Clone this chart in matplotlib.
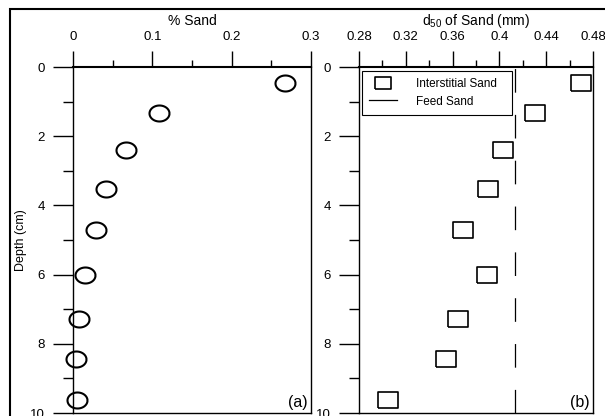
import numpy as np
import matplotlib
matplotlib.use("Agg")
import matplotlib.pyplot as plt
from matplotlib.lines import Line2D
from matplotlib.patches import Rectangle
from matplotlib.ticker import MultipleLocator, FuncFormatter

plt.rcParams['font.family'] = ['Liberation Sans', 'DejaVu Sans']
plt.rcParams['mathtext.fontset'] = 'custom'
plt.rcParams['mathtext.rm'] = 'Liberation Sans'

# profondidade das amostras (cm)
depth = [0.45, 1.33, 2.4, 3.54, 4.7, 6.0, 7.28, 8.43, 9.62]
# percentagem de areia
pct_sand = [0.267, 0.108, 0.067, 0.042, 0.029, 0.015, 0.0076, 0.004, 0.005]
# d50 da areia intersticial (mm)
d50_sand = [0.470, 0.430, 0.403, 0.390, 0.369, 0.389, 0.365, 0.354, 0.305]
# d50 da areia de alimentacao
feed_d50 = 0.413

# marcadores esticados (a imagem original tem aspecto deformado)
t = np.linspace(0, 2 * np.pi, 60)
ellipse = list(zip(1.25 * np.cos(t), np.sin(t)))
rect = [(-1.25, -1), (1.25, -1), (1.25, 1), (-1.25, 1), (-1.25, -1)]

fig = plt.figure(figsize=(6.05, 4.16), dpi=100)
ax1 = fig.add_axes([73 / 605, 3 / 416, 238 / 605, 346 / 416])
ax2 = fig.add_axes([359 / 605, 3 / 416, 234 / 605, 346 / 416])

fig.patches.append(Rectangle((10 / 605, -0.2), 1.2, 1 - 9 / 416 + 0.2,
                             transform=fig.transFigure, fill=False,
                             lw=1.5, ec='black', zorder=0))

fmt = FuncFormatter(lambda v, p: '%g' % round(v, 3))


def style(ax):
    ax.set_ylim(10, 0)
    ax.xaxis.tick_top()
    ax.xaxis.set_label_position('top')
    ax.yaxis.set_major_locator(MultipleLocator(2))
    ax.yaxis.set_minor_locator(MultipleLocator(1))
    ax.xaxis.set_major_formatter(fmt)
    ax.tick_params(axis='y', which='major', length=14.4, width=1, pad=6, labelsize=9.5)
    ax.tick_params(axis='y', which='minor', length=7.2, width=1)
    ax.tick_params(axis='x', which='major', length=11.5, width=1, pad=6, labelsize=9.5)
    ax.tick_params(axis='x', which='minor', length=5, width=1)
    for s in ax.spines.values():
        s.set_linewidth(1.0)
    ax.spines['top'].set_linewidth(1.5)


ax1.plot(pct_sand, depth, linestyle='none', marker=ellipse, markersize=14.4,
         mfc='none', mec='black', mew=1.5, clip_on=False)
ax1.set_xlim(0, 0.3)
ax1.xaxis.set_major_locator(MultipleLocator(0.1))
ax1.xaxis.set_minor_locator(MultipleLocator(0.05))
style(ax1)
ax1.set_xlabel('% Sand', fontsize=10, labelpad=4)
ax1.set_ylabel('Depth (cm)', fontsize=9, labelpad=2)
ax1.text(0.985, 0.008, '(a)', transform=ax1.transAxes, ha='right', va='bottom',
         fontsize=11.5)

ax2.plot(d50_sand, depth, linestyle='none', marker=rect, markersize=14.4,
         mfc='none', mec='black', mew=1.2, clip_on=False)
ax2.axvline(feed_d50, color='black', lw=0.9, dashes=(17 / 0.9, 16 / 0.9))
ax2.set_xlim(0.28, 0.48)
ax2.xaxis.set_major_locator(MultipleLocator(0.04))
ax2.xaxis.set_minor_locator(MultipleLocator(0.02))
style(ax2)
ax2.set_xlabel(r'd$_{\mathregular{50}}$ of Sand (mm)', fontsize=10, labelpad=4)
ax2.text(0.985, 0.008, '(b)', transform=ax2.transAxes, ha='right', va='bottom',
         fontsize=11.5)

handles = [
    Line2D([], [], linestyle='none', marker=rect, markersize=11, mfc='none',
           mec='black', mew=1.2),
    Line2D([], [], color='black', lw=0.9),
]
leg = ax2.legend(handles, ['Interstitial Sand', 'Feed Sand'],
                 loc='upper left', bbox_to_anchor=(0.013, 0.988, 0.641, 0.0),
                 mode='expand', borderaxespad=0, fancybox=False, fontsize=8.5,
                 handlelength=2.4, handletextpad=1.6, labelspacing=0.45,
                 borderpad=0.6, framealpha=1)
leg.get_frame().set_edgecolor('black')
leg.get_frame().set_linewidth(0.8)

fig.savefig('out.png', dpi=100)
